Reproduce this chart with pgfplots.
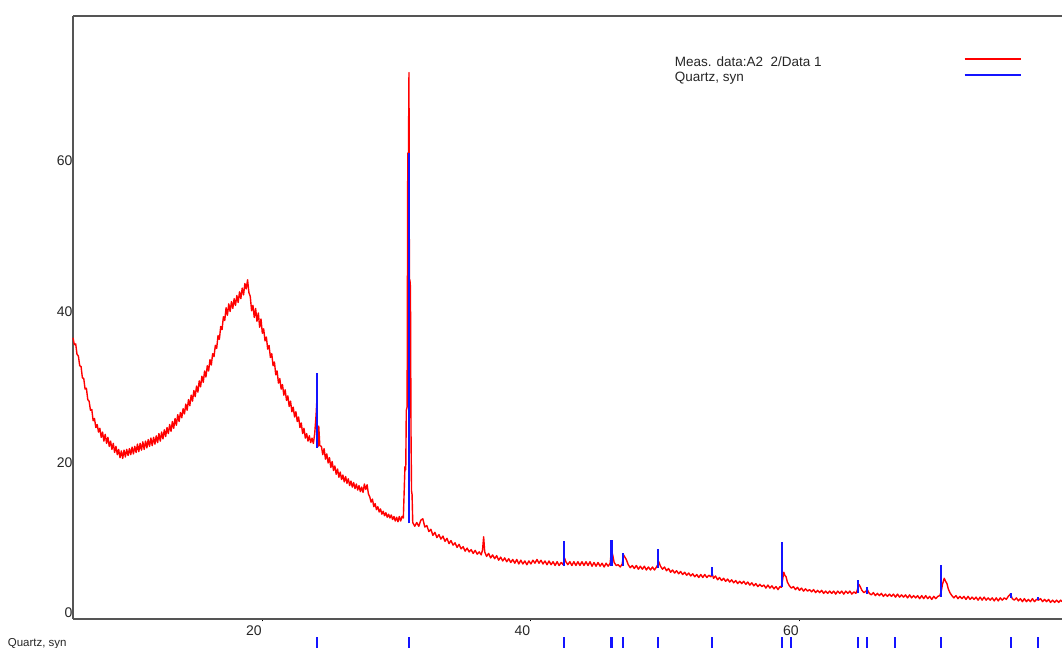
\documentclass[border=0pt]{standalone}
\usepackage{fontspec}
\setmainfont{Liberation Sans}
\usepackage{pgfplots}
\pgfplotsset{compat=1.18}
\usepackage{pgfplotstable}

\pgfplotstableread{
x y
5.90 37.3
6.00 36.4
6.10 36.5
6.20 35.1
6.30 34.9
6.40 33.6
6.50 33.5
6.60 32.0
6.70 31.9
6.80 30.5
6.90 30.6
7.00 29.1
7.10 28.9
7.20 27.7
7.30 27.8
7.40 26.3
7.50 26.6
7.60 25.4
7.70 25.8
7.80 24.8
7.90 25.3
8.00 24.1
8.10 24.8
8.20 23.6
8.30 24.5
8.40 23.3
8.50 24.1
8.60 22.9
8.70 23.6
8.80 22.5
8.90 23.3
9.00 22.1
9.10 22.9
9.20 21.8
9.30 22.5
9.40 21.4
9.50 22.3
9.60 21.3
9.70 22.4
9.80 21.5
9.90 22.5
10.00 21.7
10.10 22.6
10.20 21.8
10.30 22.8
10.40 21.9
10.50 22.9
10.60 22.1
10.70 23.2
10.80 22.2
10.90 23.3
11.00 22.4
11.10 23.5
11.20 22.5
11.30 23.6
11.40 22.7
11.50 23.8
11.60 22.9
11.70 24.0
11.80 23.0
11.90 24.1
12.00 23.2
12.10 24.3
12.20 23.4
12.30 24.6
12.40 23.6
12.50 24.8
12.60 23.9
12.70 25.1
12.80 24.2
12.90 25.4
13.00 24.6
13.10 25.8
13.20 24.9
13.30 26.2
13.40 25.3
13.50 26.6
13.60 25.7
13.70 27.1
13.80 26.2
13.90 27.4
14.00 26.7
14.10 27.9
14.20 27.2
14.30 28.5
14.40 27.7
14.50 29.1
14.60 28.3
14.70 29.7
14.80 28.9
14.90 30.3
15.00 29.5
15.10 30.9
15.20 30.1
15.30 31.6
15.40 30.8
15.50 32.2
15.60 31.4
15.70 32.9
15.80 32.1
15.90 33.6
16.00 32.9
16.10 34.4
16.20 33.7
16.30 35.2
16.40 34.8
16.50 36.3
16.60 35.9
16.70 37.6
16.80 37.1
16.90 38.8
17.00 38.4
17.10 40.1
17.20 39.6
17.30 41.3
17.40 40.3
17.50 41.8
17.60 40.8
17.70 42.1
17.80 41.2
17.90 42.5
18.00 41.6
18.10 42.9
18.20 42.0
18.30 43.4
18.40 42.5
18.50 43.9
18.60 43.0
18.70 44.5
18.80 43.8
18.90 45.0
19.00 43.3
19.10 42.8
19.20 40.9
19.30 41.6
19.40 40.0
19.50 41.2
19.60 39.5
19.70 40.6
19.80 38.7
19.90 39.8
20.00 37.9
20.10 38.5
20.20 36.9
20.30 37.4
20.40 35.8
20.50 36.3
20.60 34.7
20.70 35.2
20.80 33.6
20.90 34.1
21.00 32.4
21.10 32.9
21.20 31.3
21.30 31.9
21.40 30.5
21.50 31.1
21.60 29.7
21.70 30.4
21.80 29.0
21.90 29.6
22.00 28.2
22.10 28.9
22.20 27.5
22.30 28.1
22.40 26.8
22.50 27.5
22.60 26.2
22.70 26.8
22.80 25.4
22.90 26.0
23.00 24.6
23.10 25.3
23.20 24.0
23.30 24.6
23.40 23.6
23.50 24.3
23.60 23.4
23.70 24.0
23.80 23.3
23.90 24.6
24.00 27.0
24.06 29.0
24.10 23.1
24.15 22.9
24.20 25.6
24.28 23.0
24.40 22.9
24.50 21.8
24.60 22.6
24.70 21.2
24.80 21.9
24.90 20.7
25.00 21.4
25.10 20.1
25.20 20.9
25.30 19.7
25.40 20.3
25.50 19.2
25.60 19.9
25.70 18.8
25.80 19.5
25.90 18.5
26.00 19.1
26.10 18.2
26.20 18.9
26.30 18.0
26.40 18.6
26.50 17.7
26.60 18.3
26.70 17.5
26.80 18.1
26.90 17.3
27.00 17.9
27.10 17.1
27.20 17.7
27.30 16.9
27.40 17.5
27.50 16.8
27.60 17.9
27.70 17.2
27.80 17.8
27.90 16.6
28.00 16.2
28.10 15.5
28.20 15.9
28.30 14.9
28.40 15.3
28.50 14.5
28.60 14.9
28.70 14.2
28.80 14.6
28.90 13.9
29.00 14.3
29.10 13.7
29.20 14.1
29.30 13.5
29.40 13.9
29.50 13.4
29.60 13.8
29.70 13.2
29.80 13.6
29.90 13.0
30.00 13.5
30.10 12.9
30.20 13.6
30.30 13.0
30.40 13.6
30.50 13.4
30.62 20.2
30.68 19.8
30.72 27.7
30.78 28.1
30.83 61.8
30.88 61.5
30.92 72.5
30.95 44.5
30.99 45.0
31.03 44.0
31.07 25.0
31.11 17.0
31.15 16.5
31.20 12.8
31.35 12.3
31.50 12.8
31.65 12.3
31.80 13.1
31.95 13.3
32.10 12.2
32.25 12.4
32.40 11.6
32.55 11.9
32.70 11.1
32.85 11.5
33.00 10.8
33.15 11.2
33.30 10.6
33.45 11.0
33.60 10.3
33.75 10.7
33.90 10.0
34.05 10.4
34.20 9.8
34.35 10.1
34.50 9.5
34.65 9.9
34.80 9.3
34.95 9.6
35.10 9.0
35.25 9.4
35.40 8.9
35.55 9.2
35.70 8.7
35.85 9.1
36.00 8.6
36.15 8.9
36.30 8.5
36.40 9.2
36.48 10.9
36.56 8.9
36.70 8.3
36.85 8.7
37.00 8.1
37.15 8.5
37.30 8.0
37.45 8.4
37.60 7.8
37.75 8.2
37.90 7.7
38.05 8.1
38.20 7.6
38.35 8.0
38.50 7.5
38.65 7.9
38.80 7.4
38.95 7.9
39.10 7.3
39.25 7.8
39.40 7.3
39.55 7.7
39.70 7.2
39.85 7.7
40.00 7.3
40.15 7.8
40.30 7.4
40.45 7.9
40.60 7.4
40.75 7.8
40.90 7.3
41.05 7.7
41.20 7.2
41.35 7.7
41.50 7.2
41.65 7.6
41.80 7.1
41.95 7.6
42.10 7.1
42.25 7.5
42.40 7.2
42.50 8.1
42.60 7.6
42.75 7.2
42.90 7.6
43.05 7.1
43.20 7.6
43.35 7.1
43.50 7.6
43.65 7.1
43.80 7.6
43.95 7.1
44.10 7.6
44.25 7.1
44.40 7.6
44.55 7.0
44.70 7.5
44.85 7.0
45.00 7.5
45.15 7.0
45.30 7.4
45.45 6.9
45.60 7.4
45.75 7.0
45.90 7.4
46.00 9.15
46.10 8.4
46.20 7.5
46.35 7.1
46.50 7.2
46.65 6.9
46.80 7.3
46.90 8.5
47.00 8.2
47.10 7.9
47.25 7.2
47.40 6.8
47.55 7.1
47.70 6.7
47.85 7.1
48.00 6.6
48.15 7.0
48.30 6.6
48.45 7.0
48.60 6.5
48.75 6.9
48.90 6.5
49.05 6.9
49.20 6.5
49.35 6.9
49.45 7.2
49.52 7.6
49.65 7.0
49.80 6.6
49.95 6.9
50.10 6.4
50.25 6.7
50.40 6.2
50.55 6.5
50.70 6.1
50.85 6.4
51.00 6.0
51.15 6.3
51.30 5.9
51.45 6.2
51.60 5.8
51.75 6.1
51.90 5.7
52.05 6.0
52.20 5.6
52.35 5.9
52.50 5.5
52.65 5.9
52.80 5.5
52.95 5.9
53.10 5.5
53.25 5.8
53.40 5.6
53.50 6.0
53.60 5.4
53.75 5.7
53.90 5.2
54.05 5.5
54.20 5.1
54.35 5.4
54.50 5.0
54.65 5.3
54.80 4.9
54.95 5.2
55.10 4.8
55.25 5.1
55.40 4.7
55.55 5.0
55.70 4.7
55.85 5.0
56.00 4.6
56.15 4.9
56.30 4.5
56.45 4.8
56.60 4.4
56.75 4.7
56.90 4.3
57.05 4.6
57.20 4.3
57.35 4.5
57.50 4.1
57.65 4.5
57.80 4.1
57.95 4.4
58.10 4.0
58.25 4.3
58.40 3.9
58.55 4.3
58.65 4.2
58.75 5.3
58.83 6.2
58.91 5.8
59.00 5.6
59.10 4.9
59.25 4.4
59.40 4.1
59.55 4.3
59.70 3.9
59.85 4.2
60.00 3.8
60.15 4.1
60.30 3.7
60.45 4.0
60.60 3.7
60.75 3.9
60.90 3.6
61.05 3.9
61.20 3.5
61.35 3.8
61.50 3.5
61.65 3.8
61.80 3.4
61.95 3.7
62.10 3.4
62.25 3.7
62.40 3.4
62.55 3.7
62.70 3.3
62.85 3.7
63.00 3.4
63.15 3.7
63.30 3.3
63.45 3.7
63.60 3.4
63.75 3.7
63.90 3.3
64.05 3.6
64.20 3.4
64.30 3.8
64.42 4.6
64.52 4.3
64.65 3.8
64.80 3.5
64.95 3.7
65.05 3.9
65.20 3.4
65.35 3.2
65.50 3.5
65.65 3.1
65.80 3.4
65.95 3.1
66.10 3.4
66.25 3.0
66.40 3.3
66.55 3.0
66.70 3.3
66.85 3.0
67.00 3.3
67.15 2.9
67.30 3.3
67.45 2.9
67.60 3.2
67.75 2.9
67.90 3.2
68.05 2.8
68.20 3.2
68.35 2.8
68.50 3.1
68.65 2.8
68.80 3.1
68.95 2.7
69.10 3.1
69.25 2.7
69.40 3.1
69.55 2.7
69.70 3.0
69.85 2.6
70.00 3.0
70.15 2.7
70.30 3.0
70.45 3.1
70.55 3.6
70.65 4.6
70.78 5.4
70.88 5.0
70.98 4.7
71.08 4.0
71.20 3.5
71.35 3.1
71.50 2.8
71.65 3.1
71.80 2.7
71.95 3.0
72.10 2.7
72.25 3.0
72.40 2.6
72.55 3.0
72.70 2.6
72.85 2.9
73.00 2.6
73.15 2.9
73.30 2.5
73.45 2.9
73.60 2.5
73.75 2.9
73.90 2.5
74.05 2.8
74.20 2.5
74.35 2.8
74.50 2.4
74.65 2.8
74.80 2.4
74.95 2.8
75.10 2.5
75.25 2.8
75.40 2.6
75.55 3.0
75.70 3.3
75.85 2.7
76.00 2.5
76.15 2.8
76.30 2.4
76.45 2.7
76.60 2.3
76.75 2.7
76.90 2.3
77.05 2.6
77.20 2.3
77.35 2.7
77.50 2.3
77.65 2.6
77.80 2.5
77.95 2.7
78.10 2.3
78.25 2.6
78.40 2.3
78.55 2.6
78.70 2.2
78.85 2.5
79.00 2.2
79.15 2.5
79.30 2.2
79.45 2.5
79.55 2.3
}\measdata

\definecolor{axgray}{RGB}{85,85,85}
\definecolor{qblue}{RGB}{20,20,255}
\definecolor{mred}{RGB}{255,0,0}

\begin{document}
\begin{tikzpicture}
\begin{axis}[
  scale only axis,
  width=989pt, height=603pt,
  xmin=5.9, xmax=79.55, ymin=0, ymax=80,
  axis x line*=bottom, axis y line*=left,
  axis line style={draw=axgray, line width=1.3pt},
  xtick={20,40,60}, ytick={0,20,40,60},
  xtick align=outside, major tick length=2.5pt,
  xtick style={draw=black, line width=1pt},
  ytick style={draw=none},
  xticklabel style={xshift=-8.5pt, yshift=-0.5pt},
  yticklabel style={yshift=6pt, xshift=3pt},
  ticklabel style={font=\fontsize{14}{16}\selectfont, text=black!85},
  /pgf/number format/assume math mode=true,
  clip=false,
]
\coordinate (SW) at (rel axis cs:0,0);
\coordinate (NE) at (rel axis cs:1,1);
\draw[draw=axgray, line width=1.3pt] (rel axis cs:0,1) -- (rel axis cs:1,1);

% measured pattern
\addplot[draw=mred, line width=1.4pt, line join=round] table[x=x, y=y] {\measdata};

% Quartz reference sticks in the plot
\addplot[draw=qblue, line width=2.1pt, unbounded coords=jump] coordinates {
 (24.10,22.7) (24.10,32.6) (24.10,nan)
 (30.90,12.7) (30.90,61.8) (30.90,nan)
 (42.48,7.0) (42.48,10.3) (42.48,nan)
 (46.00,7.0) (46.00,10.5) (46.00,nan)
 (46.88,7.0) (46.88,8.7) (46.88,nan)
 (49.49,6.8) (49.49,9.3) (49.49,nan)
 (53.47,5.7) (53.47,6.9) (53.47,nan)
 (58.67,4.2) (58.67,10.2) (58.67,nan)
 (64.38,3.4) (64.38,5.2) (64.38,nan)
 (65.03,3.3) (65.03,4.2) (65.03,nan)
 (70.54,2.9) (70.54,7.2) (70.54,nan)
 (75.72,2.8) (75.72,3.5) (75.72,nan)
 (77.73,2.5) (77.73,2.9)
};

% Quartz stick pattern strip below the axis
\addplot[draw=qblue, line width=2.1pt, unbounded coords=jump] coordinates {
 (24.10,-2.4) (24.10,-5) (24.10,nan)
 (30.92,-2.4) (30.92,-5) (30.92,nan)
 (42.48,-2.4) (42.48,-5) (42.48,nan)
 (46.00,-2.4) (46.00,-5) (46.00,nan)
 (46.88,-2.4) (46.88,-5) (46.88,nan)
 (49.49,-2.4) (49.49,-5) (49.49,nan)
 (53.47,-2.4) (53.47,-5) (53.47,nan)
 (58.67,-2.4) (58.67,-5) (58.67,nan)
 (59.38,-2.4) (59.38,-5) (59.38,nan)
 (64.38,-2.4) (64.38,-5) (64.38,nan)
 (65.03,-2.4) (65.03,-5) (65.03,nan)
 (67.14,-2.4) (67.14,-5) (67.14,nan)
 (70.54,-2.4) (70.54,-5) (70.54,nan)
 (75.72,-2.4) (75.72,-5) (75.72,nan)
 (77.73,-2.4) (77.73,-5)
};

\node[anchor=west, inner sep=0pt, font=\fontsize{11.5}{13}\selectfont, text=black!85]
  at (axis cs:1.03,-3.3) {Quartz, syn};

% legend
\node[anchor=west, inner sep=0pt, font=\fontsize{13.5}{15}\selectfont, text=black!85]
  at (axis cs:50.70,73.9) {Meas. data:A2\ \ 2/Data 1};
\node[anchor=west, inner sep=0pt, font=\fontsize{13.5}{15}\selectfont, text=black!85]
  at (axis cs:50.70,71.75) {Quartz, syn};
\draw[draw=mred, line width=1.6pt] (axis cs:72.29,74.27) -- (axis cs:76.53,74.27);
\draw[draw=qblue, line width=1.6pt] (axis cs:72.29,72.15) -- (axis cs:76.53,72.15);
\end{axis}
\pgfresetboundingbox
\path[use as bounding box] ([xshift=-73pt,yshift=-29pt]SW) rectangle ([yshift=16pt]NE);
\end{tikzpicture}
\end{document}
